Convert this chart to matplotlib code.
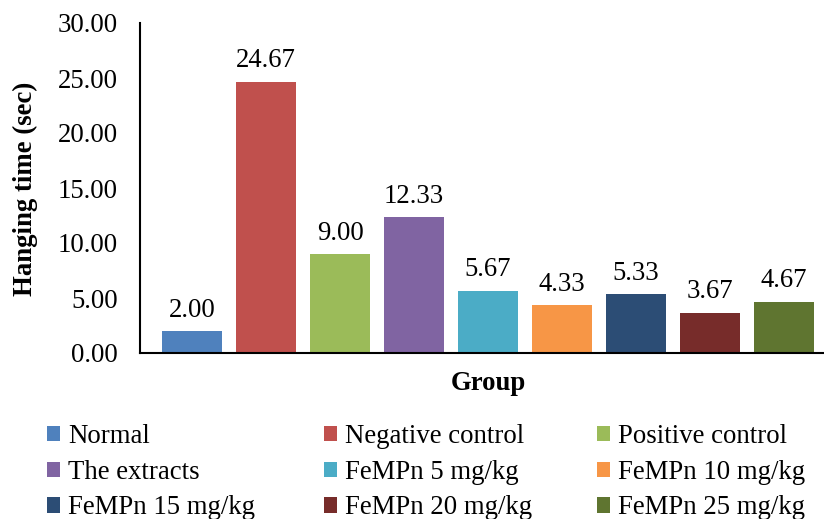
import matplotlib.pyplot as plt
from matplotlib.patches import Patch

plt.rcParams['font.family'] = ['Liberation Serif', 'DejaVu Serif']

# Data
groups = ['Normal', 'Negative control', 'Positive control', 'The extracts',
          'FeMPn 5 mg/kg', 'FeMPn 10 mg/kg', 'FeMPn 15 mg/kg',
          'FeMPn 20 mg/kg', 'FeMPn 25 mg/kg']
hanging_time = [2.00, 24.67, 9.00, 12.33, 5.67, 4.33, 5.33, 3.67, 4.67]
colors = ['#4F81BD', '#C0504D', '#9BBB59', '#8064A2', '#4BACC6',
          '#F79646', '#2C4D75', '#772C2A', '#5F7530']
yticks = [0, 5, 10, 15, 20, 25, 30]

fs = 19.3

fig = plt.figure(figsize=(8.24, 5.19), dpi=100)
ax = fig.add_axes([140 / 824, (519 - 353) / 519, 1 - 140 / 824, 330 / 519])

x = list(range(len(groups)))
bars = ax.bar(x, hanging_time, width=60 / 74, color=colors)

for xi, v in zip(x, hanging_time):
    ax.annotate(f'{v:.2f}', (xi, v), xytext=(0, 6), textcoords='offset points',
                ha='center', va='bottom', fontsize=fs)

ax.set_xlim(-52 / 74, (824 - 192) / 74)
ax.set_ylim(0, 30)
ax.set_yticks(yticks)
ax.set_yticklabels([f'{t:.2f}' for t in yticks])
ax.set_xticks([])
ax.tick_params(axis='y', length=0, pad=16, labelsize=fs)
for s in ['top', 'right']:
    ax.spines[s].set_visible(False)
ax.spines['left'].set_linewidth(1.5)
ax.spines['bottom'].set_linewidth(1.5)

fig.text(25 / 824, 1 - 189 / 519, 'Hanging time (sec)', rotation=90,
         ha='center', va='center', fontsize=fs, fontweight='bold')
fig.text(488 / 824, 1 - 384 / 519, 'Group', ha='center', va='center',
         fontsize=fs, fontweight='bold')

# Legend: three columns, filled row by row
col_x = [47, 324, 597]
for c in range(3):
    idx = [c, c + 3, c + 6]
    handles = [Patch(facecolor=colors[i], edgecolor='none') for i in idx]
    fig.legend(handles, [groups[i] for i in idx], loc='upper left',
               bbox_to_anchor=(col_x[c] / 824, 1 - 424 / 519), frameon=False,
               fontsize=fs, handlelength=0.5, handleheight=0.5,
               handletextpad=0.3, labelspacing=0.4, borderpad=0,
               borderaxespad=0)

fig.savefig('out.png', dpi=100)
